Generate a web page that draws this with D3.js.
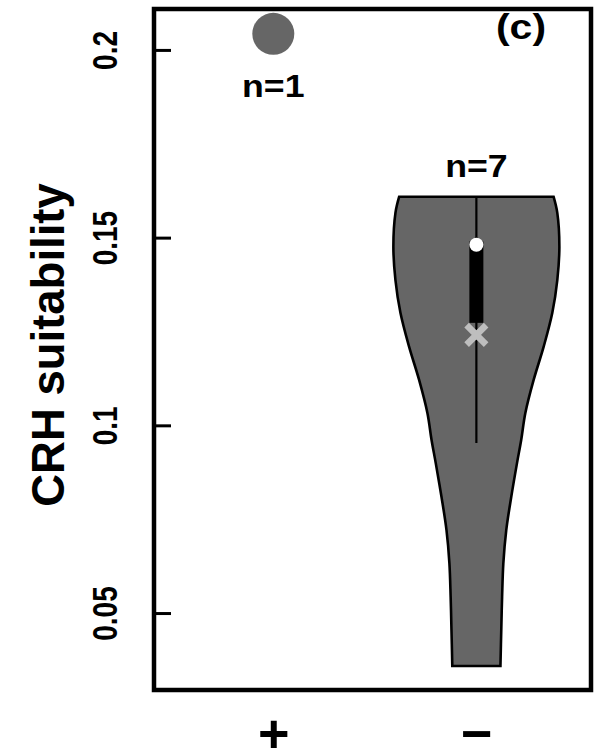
<!DOCTYPE html>
<html>
<head>
<meta charset="utf-8">
<script src="https://cdn.jsdelivr.net/npm/d3@7"></script>
<style>
  html, body { margin: 0; padding: 0; background: #fff; }
  svg { display: block; }
  text { font-family: "Liberation Sans", Arial, Helvetica, sans-serif; font-weight: bold; }
</style>
</head>
<body>
<script>
// Groups on the x axis and their sample sizes
const categories = ["+", "\u2212"];
const counts = [1, 7];

// Single observation of the "+" group
const pointValues = [0.2043];

// Violin outline of the "−" group: suitability levels and relative density
const violinLevels  = [0.1609, 0.1566, 0.1475, 0.1387, 0.1300, 0.1209, 0.1121, 0.1033,
                       0.0961, 0.0900, 0.0809, 0.0721, 0.0633, 0.0543, 0.0455, 0.0359];
const violinDensity = [0.93, 0.975, 1.0, 0.975, 0.915, 0.81, 0.69, 0.59,
                       0.54, 0.49, 0.42, 0.36, 0.325, 0.31, 0.30, 0.29];

// Box summary of the "−" group: [lower whisker, Q1, median, Q3, upper whisker]
const boxStats = [0.0953, 0.1273, 0.1481, 0.1490, 0.1609];
const meanValues = [0.1241];

// Y axis
const yTicks = [0.05, 0.1, 0.15, 0.2];
const yTickLabels = ["0.05", "0.1", "0.15", "0.2"];
const yTitle = "CRH suitability";
const panelTag = "(c)";

const W = 598, H = 751;
const plot = { left: 154, right: 591, top: 9, bottom: 690 };

const svg = d3.select("body").append("svg")
  .attr("width", W).attr("height", H)
  .attr("viewBox", `0 0 ${W} ${H}`);

svg.append("rect").attr("width", W).attr("height", H).attr("fill", "#fff");

const x = d3.scalePoint()
  .domain(categories)
  .range([plot.left, plot.right])
  .padding(0.576)
  .align(0.51);

const y = d3.scaleLinear()
  .domain([0.0295, 0.2109])
  .range([plot.bottom, plot.top]);

const halfWidth = d3.scaleLinear().domain([0, 1]).range([0, 83]);

const grey = "#666666";

// Violin for the "−" group
const cx = x(categories[1]);
const violinData = violinLevels.map((v, i) => ({ v, d: violinDensity[i] }));
const area = d3.area()
  .curve(d3.curveCatmullRom.alpha(0.5))
  .y(d => y(d.v))
  .x0(d => cx - halfWidth(d.d))
  .x1(d => cx + halfWidth(d.d));

svg.append("path")
  .datum(violinData)
  .attr("d", area)
  .attr("fill", grey)
  .attr("stroke", "#000")
  .attr("stroke-width", 2.6)
  .attr("stroke-linejoin", "miter");

// Whisker
svg.append("line")
  .attr("x1", cx).attr("x2", cx)
  .attr("y1", y(boxStats[0])).attr("y2", y(boxStats[4]))
  .attr("stroke", "#000").attr("stroke-width", 2.2);

// Interquartile box
svg.append("rect")
  .attr("x", cx - 7).attr("width", 14)
  .attr("y", y(boxStats[3]))
  .attr("height", y(boxStats[1]) - y(boxStats[3]))
  .attr("fill", "#000");

// Median
svg.append("circle")
  .attr("cx", cx).attr("cy", y(boxStats[2])).attr("r", 7)
  .attr("fill", "#fff");

// Mean
svg.append("path")
  .attr("transform", `translate(${cx},${y(meanValues[0])})`)
  .attr("d", d3.symbol(d3.symbolTimes, 250)())
  .attr("fill", "none")
  .attr("stroke", "#bebebe")
  .attr("stroke-width", 6.5);

// Single point for the "+" group
svg.selectAll("circle.pt")
  .data(pointValues)
  .join("circle")
  .attr("class", "pt")
  .attr("cx", x(categories[0]))
  .attr("cy", d => y(d))
  .attr("r", 21)
  .attr("fill", grey);

// Sample-size labels
const nLabelY = [97, 177];
svg.selectAll("text.n")
  .data(counts)
  .join("text")
  .attr("class", "n")
  .attr("text-anchor", "middle")
  .attr("font-size", 30.5)
  .attr("transform", (d, i) => `translate(${x(categories[i])},${nLabelY[i]}) scale(1.17,1)`)
  .text(d => `n=${d}`);

// Y axis with inward ticks
const yAxis = d3.axisLeft(y)
  .tickValues(yTicks)
  .tickFormat((d, i) => yTickLabels[i])
  .tickSizeInner(-17)
  .tickSizeOuter(0);

const gy = svg.append("g")
  .attr("transform", `translate(${plot.left},0)`)
  .call(yAxis);
gy.select(".domain").remove();
gy.selectAll(".tick line").attr("stroke", "#000").attr("stroke-width", 3);
gy.selectAll(".tick text")
  .attr("x", null).attr("dy", null)
  .attr("fill", "#000")
  .attr("font-size", 28)
  .attr("font-family", "Liberation Sans, Arial, Helvetica, sans-serif")
  .attr("font-weight", "bold")
  .attr("text-anchor", "middle")
  .attr("transform", "translate(-37,0) rotate(-90) scale(1,1.22)");

// X axis labels (no ticks)
const xAxis = d3.axisBottom(x).tickSize(0).tickPadding(0);
const gx = svg.append("g")
  .attr("transform", `translate(0,${plot.bottom})`)
  .call(xAxis);
gx.select(".domain").remove();
gx.selectAll(".tick text")
  .attr("y", 62).attr("dy", null)
  .attr("fill", "#000")
  .attr("font-size", 54)
  .attr("font-family", "Liberation Sans, Arial, Helvetica, sans-serif")
  .attr("font-weight", "bold");

// Plot frame
svg.append("rect")
  .attr("x", plot.left).attr("y", plot.top)
  .attr("width", plot.right - plot.left)
  .attr("height", plot.bottom - plot.top)
  .attr("fill", "none")
  .attr("stroke", "#000")
  .attr("stroke-width", 4.5);

// Y axis title
svg.append("text")
  .attr("text-anchor", "middle")
  .attr("font-size", 45.5)
  .attr("transform", `translate(64,345) rotate(-90)`)
  .text(yTitle);

// Panel tag
svg.append("text")
  .attr("text-anchor", "middle")
  .attr("font-size", 35)
  .attr("transform", `translate(521,39) scale(1.17,1)`)
  .text(panelTag);
</script>
</body>
</html>
